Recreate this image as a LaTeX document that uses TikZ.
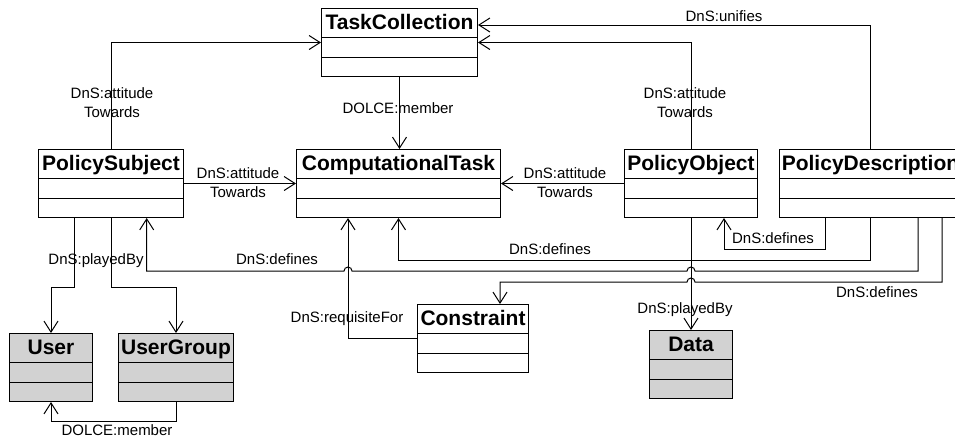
\documentclass[tikz,border=0pt]{standalone}
\usepackage{fontspec}
\setmainfont{Liberation Sans}
\usetikzlibrary{arrows.meta,calc}
\definecolor{boxgray}{RGB}{210,210,210}
\begin{document}
\begin{tikzpicture}[x=1pt,y=-1pt,
  cls/.style={draw=black, line width=1pt, fill=white, inner sep=0pt, anchor=north west,
    minimum height=68pt, text height=21pt, text depth=47pt,
    font=\fontsize{21}{25}\selectfont\bfseries,
    path picture={
      \draw[line width=1pt] ([yshift=-29pt]path picture bounding box.north west) -- ([yshift=-29pt]path picture bounding box.north east);
      \draw[line width=1pt] ([yshift=-48.5pt]path picture bounding box.north west) -- ([yshift=-48.5pt]path picture bounding box.north east);
    }},
  greybox/.style={fill=boxgray},
  conn/.style={draw=black, line width=1pt, -{Straight Barb[length=11pt,width=14pt,line width=1pt]}},
  plainline/.style={draw=black, line width=1pt},
  lbl/.style={font=\fontsize{15}{19}\selectfont, align=center, inner sep=0pt},
]
\useasboundingbox (0,0) rectangle (955,440);
\clip (0,0) rectangle (955,440);

% classes
\node[cls, minimum width=156pt] (TC) at (321,8) {TaskCollection};
\node[cls, minimum width=145pt] (PS) at (38,149) {PolicySubject};
\node[cls, minimum width=204pt] (CT) at (296,149) {ComputationalTask};
\node[cls, minimum width=133pt] (PO) at (624,149) {PolicyObject};
\node[cls, minimum width=182pt] (PD) at (779,149) {PolicyDescription};
\node[cls, minimum width=111pt] (CO) at (417,304) {Constraint};
\node[cls, greybox, minimum width=83pt] (DA) at (649,330) {Data};
\node[cls, greybox, minimum width=83pt] (US) at (9,333) {User};
\node[cls, greybox, minimum width=115pt] (UG) at (118,333) {UserGroup};

% helper levels
\coordinate (h1) at (0,249);
\coordinate (h2) at (0,260);
\coordinate (h3) at (0,271);
\coordinate (h4) at (0,282);
\coordinate (h5) at (0,287);
\coordinate (h6) at (0,421);
\coordinate (h7) at (0,25);
% helper x positions
\coordinate (xPDa) at ($(PD.south west)+(46,0)$);
\coordinate (xPDc) at ($(PD.south west)+(139,0)$);
\coordinate (xPDd) at ($(PD.south west)+(163,0)$);
\coordinate (xPOd) at ($(PO.south west)+(100,0)$);
\coordinate (xPSd) at ($(PS.south west)+(108.7,0)$);
\coordinate (xPSu) at ($(PS.south west)+(36.7,0)$);
\coordinate (xReq) at ($(CT.south west)+(52,0)$);
\coordinate (xCOn) at ($(CO.north west)+(83,0)$);
\coordinate (j1) at (PO.south |- h3);
\coordinate (j2) at (xReq |- h3);
\coordinate (j3) at (PO.south |- h4);

% connectors
\draw[conn] (PS.north) |- (TC.west);
\draw[conn] (PO.north) |- (TC.east);
\draw[conn] (PD.north) |- (TC.east |- h7);
\draw[conn] (TC.south) -- (TC.south |- CT.north);
\draw[conn] (PS.east) -- (CT.west);
\draw[conn] (PO.west) -- (CT.east);
\draw[conn] (xPDa) |- (xPOd |- h1) -- (xPOd);
\draw[conn] (PD.south) |- (CT.south |- h2) -- (CT.south);
\draw[conn] (xPDc) |- ([xshift=4pt]j1) arc[start angle=0,end angle=180,radius=4pt]
  -- ([xshift=4pt]j2) arc[start angle=0,end angle=180,radius=4pt]
  -- (xPSd |- h3) -- (xPSd);
\draw[conn] (xPDd) |- ([xshift=4pt]j3) arc[start angle=0,end angle=180,radius=4pt]
  -- (xCOn |- h4) -- (xCOn);
\draw[conn] (CO.west) -| (xReq);
\draw[conn] (PO.south) -- (DA.north);
\draw[conn] (xPSu) |- (US.north |- h5) -- (US.north);
\draw[conn] (PS.south) |- (UG.north |- h5) -- (UG.north);
\draw[conn] (UG.south) |- (US.south |- h6) -- (US.south);

% labels
\node[lbl] (l1) at (112,103) {DnS:attitude\\Towards};
\node[lbl] (l2) at (398,108) {DOLCE:member};
\node[lbl] (l3) at (238,183) {DnS:attitude\\Towards};
\node[lbl] (l4) at (565,183) {DnS:attitude\\Towards};
\node[lbl] (l5) at (685,103) {DnS:attitude\\Towards};
\node[lbl] (l6) at (724,16) {DnS:unifies};
\node[lbl] (l7) at (773,238) {DnS:defines};
\node[lbl] (l8) at (550,249) {DnS:defines};
\node[lbl] (l9) at (277,259) {DnS:defines};
\node[lbl] (l10) at (877,292) {DnS:defines};
\node[lbl] (l11) at (96,261) {DnS:playedBy};
\node[lbl] (l12) at (347,319) {DnS:requisiteFor};
\node[lbl] (l13) at (685,310) {DnS:playedBy};
\node[lbl] (l14) at (117,430) {DOLCE:member};
\end{tikzpicture}
\end{document}
